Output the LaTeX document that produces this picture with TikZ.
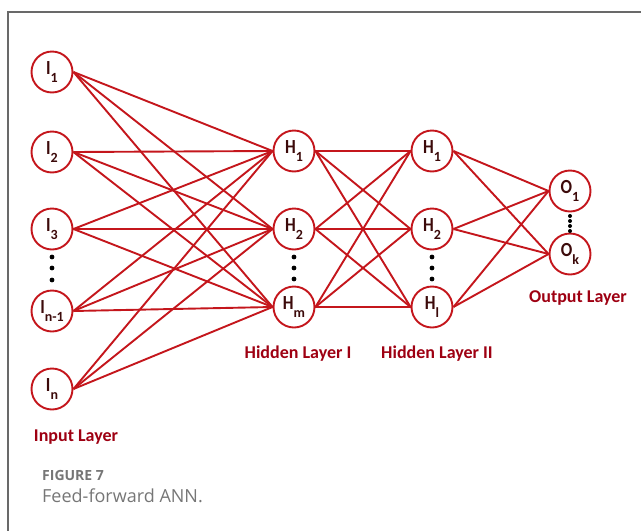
\documentclass[tikz,border=0pt]{standalone}
\usepackage{fontspec}
\setmainfont{Carlito}
\newfontfamily\capfont{Open Sans}
\usepackage{xcolor}
\usepackage{tikz}
\usetikzlibrary{positioning}
\definecolor{netred}{RGB}{196,22,28}
\definecolor{labelred}{RGB}{158,0,18}
\definecolor{nodetext}{RGB}{60,10,10}
\definecolor{framegray}{RGB}{105,105,105}
\definecolor{capgray}{RGB}{118,118,118}
\newcommand{\subunit}[2]{\scalebox{0.85}[1]{#1}\raisebox{-7.5pt}{\fontsize{14}{14}\selectfont #2}}

\begin{document}
\begin{tikzpicture}[x=1pt, y=-1pt]
\useasboundingbox (0,0) rectangle (641,531);
\draw[framegray, line width=1.4pt] (8,531) -- (8,12) -- (641,12);

\begin{scope}[every node/.style={circle, draw=netred, line width=1.9pt, minimum size=41pt, inner sep=0pt, font=\fontsize{20}{20}\selectfont\bfseries, text=nodetext}]
    \node (in1) at (52,72) {\subunit{I}{1}};
    \node (in2) at (52,152) {\subunit{I}{2}};
    \node (in3) at (52,229) {\subunit{I}{3}};
    \node (in4) at (52,311) {\subunit{I}{n-1}};
    \node (in5) at (52,389) {\subunit{I}{n}};
    \node (ha1) at (294,151) {\subunit{H}{1}};
    \node (ha2) at (294,229) {\subunit{H}{2}};
    \node (ha3) at (294,307) {\subunit{H}{m}};
    \node (hb1) at (432,151) {\subunit{H}{1}};
    \node (hb2) at (432,229) {\subunit{H}{2}};
    \node (hb3) at (432,307) {\subunit{H}{l}};
    \node (out1) at (570,191) {\subunit{O}{1}};
    \node (out2) at (570,254) {\subunit{O}{k}};
\end{scope}

\begin{scope}[netred, line width=1.9pt]
\foreach \i in {1,...,5}
    \foreach \h in {1,2,3}
        \draw (in\i.east) -- (ha\h.west);
\foreach \a in {1,2,3}
    \foreach \b in {1,2,3}
        \draw (ha\a.east) -- (hb\b.west);
\foreach \b in {1,2,3}
    \foreach \o in {1,2}
        \draw (hb\b.east) -- (out\o.west);
\end{scope}

% vertical dots
\foreach \y in {257,268,280} \fill (52,\y) circle (2.4pt);
\foreach \y in {257,268,279} \fill (294,\y) circle (2.4pt);
\foreach \y in {257,268,279} \fill (432,\y) circle (2.4pt);
\foreach \y in {216,221,226,231} \fill (570,\y) circle (2pt);

\begin{scope}[every node/.style={anchor=base, text=labelred, font=\fontsize{18}{18}\selectfont\bfseries}]
    \node (inlabel) at (76,441) {Input Layer};
    \node (halabel) at (298,358) {Hidden Layer I};
    \node (hblabel) at (437,358) {Hidden Layer II};
    \node (outlabel) at (578,302) {Output Layer};
\end{scope}

\node[anchor=base west, inner sep=0pt, text=capgray, font=\capfont\fontsize{14}{14}\selectfont\bfseries] (figno) at (42,480) {FIGURE 7};
\node[anchor=base west, inner sep=0pt, text=capgray, font=\capfont\fontsize{18}{18}\selectfont] (figcap) at (42,502) {Feed-forward ANN.};
\end{tikzpicture}
\end{document}
